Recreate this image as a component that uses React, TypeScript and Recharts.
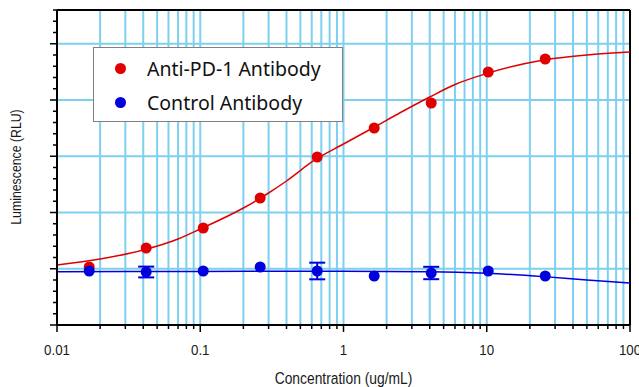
import React from "react";
import {
  ComposedChart,
  Line,
  Scatter,
  XAxis,
  YAxis,
  CartesianGrid,
  ErrorBar,
  Legend,
  ReferenceLine,
  Label,
} from "recharts";

// 2.5-fold dilution series, ug/mL
const concentrations = [0.01678, 0.04194, 0.1049, 0.2621, 0.6554, 1.638, 4.096, 10.24, 25.6];
const antiPd1Values = [5156, 6844, 8622, 11289, 14933, 17511, 19733, 22489, 23644];
const controlValues = [4800, 4711, 4800, 5156, 4800, 4356, 4622, 4800, 4356];
const controlErrors = [0, 480, 0, 0, 740, 0, 550, 0, 0];

// fitted curves
const antiPd1FitX = [0.01, 0.02, 0.04, 0.07, 0.1, 0.2, 0.3, 0.4, 0.63, 1, 1.6, 2.5, 4, 6, 10, 25, 50, 100];
const antiPd1FitY = [5333, 5867, 6667, 7644, 8533, 10400, 11733, 12800, 14667, 16089, 17511, 18889, 20267, 21378, 22356, 23556, 24000, 24267];
const controlFitX = [0.01, 0.1, 1, 4, 10, 25, 50, 100];
const controlFitY = [4740, 4760, 4780, 4740, 4600, 4300, 4000, 3730];

const seriesNames = ["Anti-PD-1 Antibody", "Control Antibody"];

const xDecades = [0.01, 0.1, 1, 10];
const xTicks = [...xDecades.flatMap((d) => [1, 2, 3, 4, 5, 6, 7, 8, 9].map((m) => m * d)), 100];
const xGridValues = xTicks.filter((v) => v > 0.01 && v < 100);
const yTicks = Array.from({ length: 29 }, (_, i) => i * 1000);
const yGridValues = [5000, 10000, 15000, 20000, 25000];

const RED = "#e00000";
const BLUE = "#0000dd";
const GRID = "#7ed0f0";
const axisFont = '"Liberation Sans", Arial, sans-serif';

const antiPd1Points = concentrations.map((x, i) => ({ x, y: antiPd1Values[i] }));
const controlPoints = concentrations.map((x, i) => ({ x, y: controlValues[i], err: controlErrors[i] }));
const antiPd1Fit = antiPd1FitX.map((x, i) => ({ x, y: antiPd1FitY[i] }));
const controlFit = controlFitX.map((x, i) => ({ x, y: controlFitY[i] }));

const isDecade = (v: number) => Math.abs(Math.log10(v) - Math.round(Math.log10(v))) < 1e-6;

// the original uses a narrow Arial; squeeze Liberation Sans horizontally
const NarrowText = ({ x, y, size, rotate = 0, squeeze, children }: any) => (
  <text
    transform={`translate(${x} ${y}) rotate(${rotate}) scale(${squeeze} 1)`}
    textAnchor="middle"
    fontSize={size}
    fontFamily={axisFont}
    fill="#1a1a1a"
  >
    {children}
  </text>
);

const XTick = (props: any) => {
  const { x, y, payload } = props;
  const v = payload.value;
  const major = isDecade(v);
  return (
    <g>
      <line x1={x} x2={x} y1={y} y2={y + (major ? 7 : 4)} stroke="#000" strokeWidth={1.5} />
      {major && (
        <NarrowText x={x} y={y + 30} size={15.5} squeeze={0.86}>
          {String(Number(v.toPrecision(3)))}
        </NarrowText>
      )}
    </g>
  );
};

const YTick = (props: any) => {
  const { x, y, payload } = props;
  const major = payload.value % 5000 === 0;
  return <line x1={x - (major ? 7 : 4)} x2={x} y1={y} y2={y} stroke="#000" strokeWidth={1.5} />;
};

const dot = (color: string) => (p: any) => <circle cx={p.cx} cy={p.cy} r={5.5} fill={color} />;

const renderLegend = () => (
  <div
    style={{
      width: 250,
      height: 75,
      boxSizing: "border-box",
      border: "1px solid #808080",
      background: "#fff",
      paddingTop: 3,
      fontFamily: '"Noto Sans", sans-serif',
      fontSize: 19.5,
      color: "#111",
    }}
  >
    {seriesNames.map((name, i) => (
      <div key={name} style={{ height: 34, display: "flex", alignItems: "center" }}>
        <span
          style={{
            width: 11,
            height: 11,
            borderRadius: "50%",
            background: i === 0 ? RED : BLUE,
            marginLeft: 21,
            marginRight: 21,
          }}
        />
        <span>{name}</span>
      </div>
    ))}
  </div>
);

export default function App() {
  return (
    <div>
      <style>{"body{margin:0}"}</style>
      <ComposedChart width={639} height={387} margin={{ top: 10, right: 9, left: 0, bottom: 0 }}>
        <CartesianGrid
          stroke={GRID}
          strokeWidth={2}
          horizontalValues={yGridValues}
          verticalValues={xGridValues}
        />
        <XAxis
          dataKey="x"
          type="number"
          scale="log"
          domain={[0.01, 100]}
          allowDataOverflow
          ticks={xTicks}
          interval={0}
          tick={<XTick />}
          tickLine={false}
          tickSize={0}
          tickMargin={0}
          axisLine={{ stroke: "#000", strokeWidth: 2 }}
          height={62}
        >
          <Label
            content={(p: any) => (
              <NarrowText
                x={p.viewBox.x + p.viewBox.width / 2}
                y={p.viewBox.y + p.viewBox.height - 3}
                size={16.5}
                squeeze={0.84}
              >
                Concentration (ug/mL)
              </NarrowText>
            )}
          />
        </XAxis>
        <YAxis
          type="number"
          domain={[0, 28000]}
          allowDataOverflow
          ticks={yTicks}
          interval={0}
          tick={<YTick />}
          tickLine={false}
          tickSize={0}
          tickMargin={0}
          axisLine={{ stroke: "#000", strokeWidth: 2 }}
          width={57}
        >
          <Label
            content={() => (
              <NarrowText x={21} y={167} rotate={-90} size={15} squeeze={0.82}>
                Luminescence (RLU)
              </NarrowText>
            )}
          />
        </YAxis>
        <ReferenceLine y={28000} stroke="#000" strokeWidth={2} />
        <ReferenceLine x={100} stroke="#000" strokeWidth={2} />
        <Line
          data={antiPd1Fit}
          dataKey="y"
          type="monotone"
          stroke={RED}
          strokeWidth={1.5}
          dot={false}
          legendType="none"
          isAnimationActive={false}
        />
        <Scatter
          data={antiPd1Points}
          dataKey="y"
          name={seriesNames[0]}
          fill={RED}
          shape={dot(RED)}
          isAnimationActive={false}
        />
        <Line
          data={controlFit}
          dataKey="y"
          type="monotone"
          stroke={BLUE}
          strokeWidth={1.5}
          dot={false}
          legendType="none"
          isAnimationActive={false}
        />
        <Scatter
          data={controlPoints}
          dataKey="y"
          name={seriesNames[1]}
          fill={BLUE}
          shape={dot(BLUE)}
          isAnimationActive={false}
        >
          <ErrorBar dataKey="err" direction="y" width={8} stroke={BLUE} strokeWidth={2} />
        </Scatter>
        <Legend
          content={renderLegend}
          layout="vertical"
          align="center"
          verticalAlign="middle"
          wrapperStyle={{ left: 93, top: 47, width: 250 }}
        />
      </ComposedChart>
    </div>
  );
}
